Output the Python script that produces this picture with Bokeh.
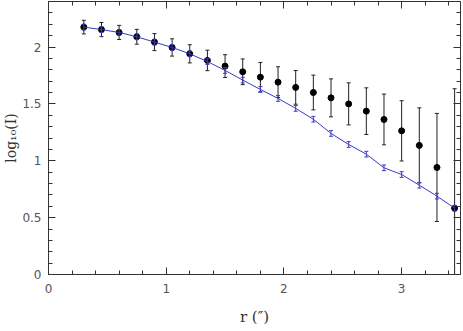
from bokeh.plotting import figure
from bokeh.models import Range1d, LinearAxis, SingleIntervalTicker, FixedTicker, NumeralTickFormatter
from bokeh.embed import file_html
from bokeh.resources import INLINE

# radius (arcsec)
r = [0.3, 0.45, 0.6, 0.75, 0.9, 1.05, 1.2, 1.35, 1.5, 1.65, 1.8,
     1.95, 2.1, 2.25, 2.4, 2.55, 2.7, 2.85, 3.0, 3.15, 3.3, 3.45]
# observed log10(I)
obs = [2.175, 2.153, 2.128, 2.09, 2.043, 1.996, 1.94, 1.882, 1.832, 1.782, 1.735,
       1.691, 1.645, 1.60, 1.553, 1.50, 1.436, 1.363, 1.263, 1.135, 0.941, 0.583]
obs_err = [0.06, 0.062, 0.062, 0.065, 0.075, 0.076, 0.08, 0.09, 0.10, 0.113, 0.129,
           0.135, 0.148, 0.153, 0.167, 0.185, 0.205, 0.223, 0.265, 0.33, 0.475, 1.05]
# model log10(I)
model = [2.175, 2.153, 2.128, 2.09, 2.043, 1.996, 1.94, 1.872, 1.794, 1.709, 1.627,
         1.548, 1.46, 1.365, 1.24, 1.143, 1.058, 0.938, 0.879, 0.785, 0.689, 0.583]
model_err = [0.025] * len(r)

X_MAX, Y_MAX = 3.5, 2.4
x_major, y_major = 1.0, 0.5
x_minor, y_minor = 0.2, 0.1

TICK_FONT = "DejaVu Sans"
LABEL_FONT = "DejaVu Serif"
AXIS_COLOR = "#333333"
BLUE = "#3a3ac4"

p = figure(width=461, height=329, x_range=Range1d(0, X_MAX), y_range=Range1d(0, Y_MAX),
           output_backend="svg", toolbar_location=None,
           min_border_left=40, min_border_right=1, min_border_top=1, min_border_bottom=55)
p.xgrid.visible = False
p.ygrid.visible = False
p.outline_line_color = AXIS_COLOR
p.background_fill_color = "white"
p.border_fill_color = "white"

p.xaxis.ticker = SingleIntervalTicker(interval=x_major, num_minor_ticks=5)
p.yaxis.ticker = SingleIntervalTicker(interval=y_major, num_minor_ticks=5)
p.yaxis.formatter = NumeralTickFormatter(format="0.[0]")
p.xaxis.formatter = NumeralTickFormatter(format="0.[0]")
p.xaxis.axis_label = "r (″)"
p.yaxis.axis_label = "log₁₀(I)"

for ax in [p.xaxis[0], p.yaxis[0]]:
    ax.major_tick_in = 7
    ax.major_tick_out = 0
    ax.minor_tick_in = 4
    ax.minor_tick_out = 0
    ax.axis_line_color = AXIS_COLOR
    ax.major_tick_line_color = AXIS_COLOR
    ax.minor_tick_line_color = AXIS_COLOR
    ax.major_label_text_font = TICK_FONT
    ax.major_label_text_font_size = "12px"
    ax.major_label_text_color = "#555555"
    ax.axis_label_text_font = LABEL_FONT
    ax.axis_label_text_font_style = "normal"
    ax.axis_label_text_font_size = "14px"
    ax.axis_label_text_color = "#333333"
p.xaxis.axis_label_text_font_size = "15px"
p.xaxis.major_label_standoff = 9
p.xaxis.axis_label_standoff = 12
p.yaxis.major_label_standoff = 7
p.yaxis.axis_label_standoff = 0


def tick_positions(step, vmax):
    n = int(round(vmax / step))
    return [round(i * step, 6) for i in range(n + 1)]


x_maj = tick_positions(x_major, X_MAX)
y_maj = tick_positions(y_major, Y_MAX)
x_min = [t for t in tick_positions(x_minor, X_MAX) if t not in x_maj]
y_min = [t for t in tick_positions(y_minor, Y_MAX) if t not in y_maj]

# mirrored tick marks on top and right (no labels), pinned to the frame edge
for loc, where, majors, minors in [("above", Y_MAX, x_maj, x_min), ("right", X_MAX, y_maj, y_min)]:
    for ticks, length in [(majors, 7), (minors, 4)]:
        ax = LinearAxis(ticker=FixedTicker(ticks=[], minor_ticks=ticks), fixed_location=where)
        ax.minor_tick_in = length
        ax.minor_tick_out = 0
        ax.major_tick_in = 0
        ax.major_tick_out = 0
        ax.major_label_standoff = 0
        ax.axis_label_standoff = 0
        ax.axis_line_color = AXIS_COLOR
        ax.minor_tick_line_color = AXIS_COLOR
        p.add_layout(ax, loc)

# observed error bars
lo = [o - e for o, e in zip(obs, obs_err)]
hi = [o + e for o, e in zip(obs, obs_err)]
p.segment(x0=r, y0=lo, x1=r, y1=hi, line_color="#222222", line_width=1)
p.scatter(x=r, y=lo, marker="dash", size=4, line_color="#222222", line_width=1)
p.scatter(x=r, y=hi, marker="dash", size=4, line_color="#222222", line_width=1)
p.scatter(x=r, y=obs, marker="circle", size=6, fill_color="black", line_color="black")

# model
mlo = [m - e for m, e in zip(model, model_err)]
mhi = [m + e for m, e in zip(model, model_err)]
p.line(x=r, y=model, line_color=BLUE, line_width=1)
p.segment(x0=r, y0=mlo, x1=r, y1=mhi, line_color=BLUE, line_width=1)
p.scatter(x=r, y=mlo, marker="dash", size=4, line_color=BLUE, line_width=1)
p.scatter(x=r, y=mhi, marker="dash", size=4, line_color=BLUE, line_width=1)

open("out.html", "w").write(file_html(p, INLINE))
